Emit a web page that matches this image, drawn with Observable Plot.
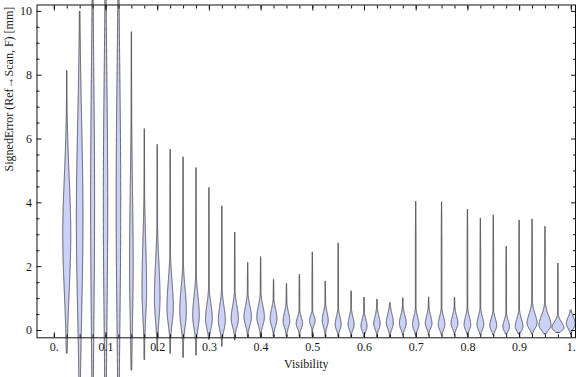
<!DOCTYPE html>
<html><head><meta charset="utf-8">
<script src="https://cdn.jsdelivr.net/npm/d3@7"></script>
<script src="https://cdn.jsdelivr.net/npm/@observablehq/plot@0.6"></script>
<style>body{margin:0;background:#fff}</style>
</head><body><div id="chart"></div>
<script>
// Visibility bin centres
const visibility = [0.025,0.05,0.075,0.1,0.125,0.15,0.175,0.2,0.225,0.25,
  0.275,0.3,0.325,0.35,0.375,0.4,0.425,0.45,0.475,0.5,
  0.525,0.55,0.575,0.6,0.625,0.65,0.675,0.7,0.725,0.75,
  0.775,0.8,0.825,0.85,0.875,0.9,0.925,0.95,0.975,1.0];
// smallest / largest signed error per bin [mm]
const errMin = [-0.72,-1.6,-1.8,-1.8,-1.8,-1.25,-0.92,-0.65,-0.72,-0.85,
  -0.78,-0.28,-0.5,-0.3,-0.2,-0.2,-0.2,-0.2,-0.2,-0.2,
  -0.2,-0.2,-0.2,-0.2,-0.2,-0.2,-0.15,-0.15,-0.15,-0.15,
  -0.15,-0.15,-0.15,-0.15,-0.12,-0.12,-0.12,-0.12,-0.08,-0.12];
const errMax = [8.13,10.0,11.5,12.0,12.0,9.35,6.31,5.82,5.67,5.43,
  5.09,4.47,3.89,3.07,2.12,2.30,1.59,1.46,1.75,2.45,
  1.54,2.73,1.23,1.03,0.97,0.86,1.01,4.04,1.04,4.02,
  1.03,3.79,3.51,3.61,2.63,3.45,3.48,3.25,2.10,0.63];
// most frequent error (density peak) per bin [mm]
const errMode = [3.0,3.5,4.0,4.0,4.0,2.0,1.3,1.0,0.7,0.6,
  0.45,0.35,0.3,0.35,0.4,0.4,0.35,0.28,0.2,0.3,
  0.3,0.16,0.16,0.12,0.18,0.22,0.21,0.16,0.2,0.16,
  0.2,0.16,0.16,0.14,0.1,0.1,0.2,0.15,0.07,0.2];
// relative peak density per bin
const peakDensity = [4.0,3.3,2.0,2.2,2.3,1.8,2.3,2.8,3.2,3.3,
  3.3,3.4,3.5,3.6,3.7,3.8,3.4,3.3,3.2,2.8,
  3.0,3.0,3.0,3.0,3.2,3.5,3.4,3.2,3.3,3.3,
  3.4,3.3,3.4,3.4,3.3,3.8,5.0,6.0,6.0,4.5];
// spread of the density below / above the peak [mm]
const spreadBelow = [1.8,3.0,4.0,4.0,4.0,1.8,0.9,0.7,0.5,0.5,
  0.4,0.3,0.3,0.25,0.25,0.25,0.22,0.2,0.15,0.15,
  0.2,0.15,0.15,0.15,0.15,0.18,0.17,0.15,0.15,0.15,
  0.15,0.15,0.15,0.15,0.13,0.13,0.15,0.15,0.1,0.15];
const spreadAbove = [1.8,3.0,4.0,4.0,4.0,2.5,1.5,1.1,0.8,0.7,
  0.6,0.45,0.45,0.4,0.35,0.35,0.3,0.28,0.2,0.15,
  0.25,0.25,0.25,0.22,0.25,0.28,0.25,0.25,0.25,0.25,
  0.25,0.25,0.25,0.22,0.2,0.25,0.3,0.3,0.18,0.2];

const xTickValues = [0,0.1,0.2,0.3,0.4,0.5,0.6,0.7,0.8,0.9,1];
const xTickLabels = ["0.","0.1","0.2","0.3","0.4","0.5","0.6","0.7","0.8","0.9","1."];
const xMinorTicks = visibility.concat([0]);
const yTickValues = [0,2,4,6,8,10];
const yTickLabels = ["0","2","4","6","8","10"];
const yMinorTicks = [0.5,1,1.5,2.5,3,3.5,4.5,5,5.5,6.5,7,7.5,8.5,9,9.5];

const W = 576, H = 377;
const mL = 36.5, mR = 1, mT = 4.5, mB = 39.7;
const xDom = [-0.0335, 1.0081], yDom = [-0.229, 10.2];
const pxPerX = (W - mL - mR) / (xDom[1] - xDom[0]);
const tailHalf = 0.35; // px

const rows = [];
visibility.forEach((v, i) => {
  const lo = errMin[i], hi = errMax[i], m = errMode[i];
  const n = 500;
  for (let k = 0; k <= n; k++) {
    const y = lo + (hi - lo) * k / n;
    const s = y < m ? spreadBelow[i] : spreadAbove[i];
    const bulb = peakDensity[i] * Math.exp(-0.5 * ((y - m) / s) ** 2);
    const topT = Math.min(1, (hi - y) / (0.3 * (hi - lo)));
    const tail = tailHalf * (0.3 + 0.7 * topT);
    let hw = Math.max(bulb, tail);
    if (k === 0 || k === n) hw = 0;
    rows.push({id: i, y, x1: v - hw / pxPerX, x2: v + hw / pxPerX});
  }
});

const fmt = (vals, labs) => d => { const j = vals.indexOf(d); return j < 0 ? "" : labs[j]; };
const blank = () => "";

const chart = Plot.plot({
  width: W, height: H,
  marginLeft: mL, marginRight: mR, marginTop: mT, marginBottom: mB,
  x: {domain: xDom},
  y: {domain: yDom},
  style: {fontFamily: "Liberation Serif", fontSize: "12px", color: "#1a1a1a", background: "white"},
  marks: [
    Plot.areaX(rows, {y: "y", x1: "x1", x2: "x2", z: "id", fill: "rgb(204,210,247)",
      stroke: "#3a3a3a", strokeWidth: 1, strokeOpacity: 0.8, curve: "linear"}),
    Plot.frame({stroke: "#111", strokeWidth: 1}),
    // minor ticks
    Plot.axisX(xMinorTicks, {anchor: "bottom", tickSize: -3, tickFormat: blank, label: null, stroke: "#111"}),
    Plot.axisX(xMinorTicks, {anchor: "top", tickSize: -3, tickFormat: blank, label: null, stroke: "#111"}),
    Plot.axisY(yMinorTicks, {anchor: "left", tickSize: -3, tickFormat: blank, label: null, stroke: "#111"}),
    Plot.axisY(yMinorTicks, {anchor: "right", tickSize: -3, tickFormat: blank, label: null, stroke: "#111"}),
    // major ticks
    Plot.axisX(xTickValues, {anchor: "bottom", tickSize: -5, tickFormat: blank, label: null, stroke: "#111"}),
    Plot.axisX(xTickValues, {anchor: "top", tickSize: -5, tickFormat: blank, label: null, stroke: "#111"}),
    Plot.axisY(yTickValues, {anchor: "left", tickSize: -5, tickFormat: blank, label: null, stroke: "#111"}),
    Plot.axisY(yTickValues, {anchor: "right", tickSize: -5, tickFormat: blank, label: null, stroke: "#111"}),
    // labels
    Plot.axisX(xTickValues, {anchor: "bottom", tickSize: 0, tickPadding: 5, tickFormat: fmt(xTickValues, xTickLabels), label: null}),
    Plot.axisY(yTickValues, {anchor: "left", tickSize: 0, tickPadding: 5, tickFormat: fmt(yTickValues, yTickLabels), label: null}),
    Plot.text(["Visibility"], {frameAnchor: "bottom", dy: 30, text: d => d}),
    Plot.text(["SignedError (Ref\u2192Scan, F) [mm]"], {frameAnchor: "left", rotate: -90, dx: -28, text: d => d})
  ]
});
document.getElementById("chart").append(chart);
</script>
</body></html>
